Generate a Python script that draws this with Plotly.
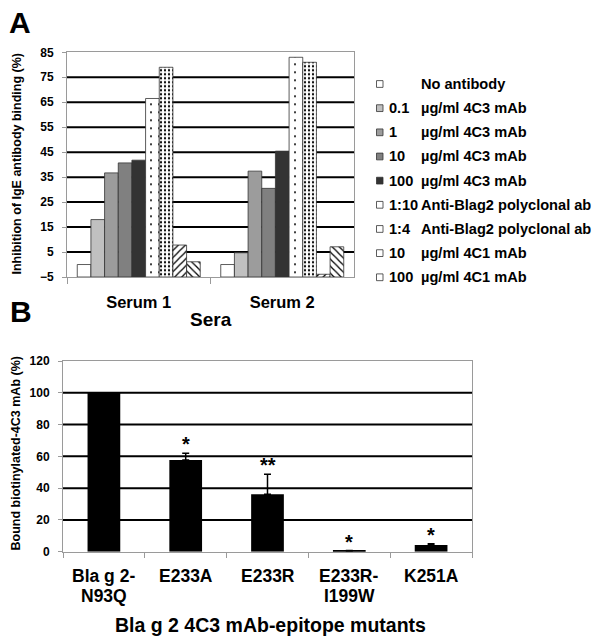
import plotly.graph_objects as go

# ---------------- data ----------------
SERA = ["Serum 1", "Serum 2"]
LEGEND_NUM = ["", "0.1", "1", "10", "100", "1:10", "1:4", "10", "100"]
LEGEND_DESC = ["No antibody", "µg/ml 4C3 mAb", "µg/ml 4C3 mAb", "µg/ml 4C3 mAb",
               "µg/ml 4C3 mAb", "Anti-Blag2 polyclonal ab", "Anti-Blag2 polyclonal ab",
               "µg/ml 4C1 mAb", "µg/ml 4C1 mAb"]
SERUM1 = [0, 18.0, 36.7, 40.7, 41.8, 66.5, 79.0, 7.8, 1.1]
SERUM2 = [0, 4.7, 37.4, 30.5, 45.4, 83.0, 81.0, -3.9, 7.1]
A_TICKS = [-5, 5, 15, 25, 35, 45, 55, 65, 75, 85]

MUTANTS = ["Bla g 2-N93Q", "E233A", "E233R", "E233R-I199W", "K251A"]
BOUND = [100, 57.7, 36.1, 0.5, 4.2]
BOUND_ERR = [0, 4.2, 12.6, 0.2, 0.8]
SIGNIF = ["", "*", "**", "*", "*"]
B_TICKS = [0, 20, 40, 60, 80, 100, 120]

# ---------------- styles ----------------
FONT = "Liberation Sans, Arial, sans-serif"
BAR_COLORS = ["white", "#c0c0c0", "#9c9c9c", "#808080", "#333333",
              "white", "white", "white", "white"]
PATTERNS = ["", "", "", "", "", ".", ".", "/", "\\"]
PAT_SIZE = [8, 8, 8, 8, 8, 8, 4, 5, 5]
PAT_SOL = [0.3, 0.3, 0.3, 0.3, 0.3, 0.05, 0.25, 0.25, 0.25]
SW_PAT_SIZE = [4, 4, 4, 4, 4, 5, 3, 3, 3]
AXC = "#9a9a9a"
W, H = 600, 642


def px(xp):
    return xp / W


def py(yp):
    return 1 - yp / H


Y_MIN = A_TICKS[0]

fig = go.Figure()

# Panel A bars
for i in range(len(LEGEND_NUM)):
    vals = [SERUM1[i], SERUM2[i]]
    fig.add_trace(go.Bar(
        x=SERA, y=[v - Y_MIN for v in vals], base=Y_MIN,
        customdata=vals, hovertemplate="%{x}: %{customdata}<extra></extra>",
        name=(LEGEND_NUM[i] + " " + LEGEND_DESC[i]).strip(),
        marker=dict(color=BAR_COLORS[i], line=dict(color="#333333", width=0.8),
                    pattern=dict(shape=PATTERNS[i], size=PAT_SIZE[i], solidity=PAT_SOL[i],
                                 fgcolor="black", bgcolor="white", fillmode="replace")),
        xaxis="x", yaxis="y", showlegend=False))

# Panel B bars
fig.add_trace(go.Bar(
    x=MUTANTS, y=BOUND, width=0.4,
    marker=dict(color="black", line=dict(width=0)),
    error_y=dict(type="data", array=BOUND_ERR, arrayminus=[0] * len(BOUND_ERR),
                 symmetric=False, color="black", thickness=1.5, width=3.5),
    xaxis="x2", yaxis="y2", showlegend=False))

# Custom legend swatches (axis in pixel units)
idx = list(range(len(LEGEND_NUM)))
fig.add_trace(go.Bar(
    y=idx, x=[6.5] * len(idx), base=6.5, orientation="h", width=0.28,
    marker=dict(color=BAR_COLORS, line=dict(color="#333333", width=0.8),
                pattern=dict(shape=PATTERNS, size=SW_PAT_SIZE, solidity=0.3,
                             fgcolor="black", bgcolor="white", fillmode="replace")),
    hoverinfo="skip", xaxis="x3", yaxis="y3", showlegend=False))

shapes = []
for v in A_TICKS[1:-1]:
    shapes.append(dict(type="line", xref="x domain", yref="y", x0=0, x1=1, y0=v, y1=v,
                       line=dict(color="black", width=2), layer="below"))
for v in B_TICKS[1:-1]:
    shapes.append(dict(type="line", xref="x2 domain", yref="y2", x0=0, x1=1, y0=v, y1=v,
                       line=dict(color="black", width=2), layer="below"))

bold = lambda s: dict(family=FONT, size=s, color="black", weight="bold")


def note(text, x, y, size, xref="paper", yref="paper", **kw):
    d = dict(text=text, x=x, y=y, xref=xref, yref=yref, showarrow=False,
             xanchor="center", yanchor="middle", font=bold(size))
    d.update(kw)
    return d


ann = []
ann.append(note("A", px(19.5), py(22.5), 30))
ann.append(note("B", px(20.5), py(311.7), 30))
ann.append(note("Inhibition of IgE antibody binding (%)", px(16), py(164.5), 12.5,
                textangle=-90))
ann.append(note("Bound biotinylated-4C3 mAb (%)", px(15.5), py(454), 12.5, textangle=-90))
ann.append(note("Sera", px(210.5), py(319.5), 19))
ann.append(note("Bla g 2 4C3 mAb-epitope mutants", px(270), py(625), 19.5))

for i in idx:
    if LEGEND_NUM[i]:
        ann.append(note(LEGEND_NUM[i], 16.5, i, 14.6, xref="x3", yref="y3", xanchor="left"))
    ann.append(note(LEGEND_DESC[i], 48.5, i, 14.6, xref="x3", yref="y3", xanchor="left"))

for m in MUTANTS:
    if "-" in m:
        a, b = m.split("-", 1)
        lines = [a + "-", b]
    else:
        lines = [m]
    for k, t in enumerate(lines):
        ann.append(note(t, m, py(576 + 19.5 * k), 17.5, xref="x2"))

for m, v, e, s in zip(MUTANTS, BOUND, BOUND_ERR, SIGNIF):
    if s:
        ann.append(note(s, m, v + e, 20, xref="x2", yref="y2", yshift=9))

fig.update_layout(
    template="none",
    width=W, height=H, margin=dict(l=0, r=0, t=0, b=0, pad=0, autoexpand=False),
    paper_bgcolor="white", plot_bgcolor="white",
    barmode="group", bargap=0.143, bargroupgap=0,
    font=dict(family=FONT, color="black"),
    shapes=shapes, annotations=ann,
    xaxis=dict(domain=[px(67), px(354)], anchor="y", type="category", automargin=False,
               showline=True, linecolor=AXC, linewidth=1, mirror=True,
               ticks="outside", tickson="boundaries", ticklen=6, tickcolor=AXC,
               tickfont=bold(16.5), ticklabelstandoff=10, showgrid=False),
    yaxis=dict(domain=[py(277), py(52.3)], anchor="x", range=[A_TICKS[0], A_TICKS[-1]],
               automargin=False,
               tickvals=A_TICKS, showline=True, linecolor=AXC, linewidth=1, mirror=True,
               ticks="outside", ticklen=4, tickcolor=AXC, tickfont=bold(12),
               ticklabelstandoff=6, showgrid=False, zeroline=False),
    xaxis2=dict(domain=[px(63), px(472)], anchor="y2", type="category", automargin=False,
                showline=True, linecolor=AXC, linewidth=1, mirror=True,
                ticks="outside", tickson="boundaries", ticklen=5, tickcolor=AXC,
                showticklabels=False, showgrid=False),
    yaxis2=dict(domain=[py(551.7), py(361)], anchor="x2", range=[B_TICKS[0], B_TICKS[-1]],
                automargin=False,
                tickvals=B_TICKS, showline=True, linecolor=AXC, linewidth=1, mirror=True,
                ticks="outside", ticklen=4, tickcolor=AXC, tickfont=bold(12),
                ticklabelstandoff=6, showgrid=False, zeroline=False),
    xaxis3=dict(domain=[px(370), 1], anchor="y3", range=[0, 230], visible=False,
                fixedrange=True, automargin=False),
    yaxis3=dict(domain=[py(84 + 8.5 * 24.16), py(84 - 0.5 * 24.16)], anchor="x3",
                range=[8.5, -0.5], visible=False, fixedrange=True, automargin=False),
)

fig.write_html("out.html", config={"displayModeBar": False},
               post_script="document.body.style.margin='0';")
